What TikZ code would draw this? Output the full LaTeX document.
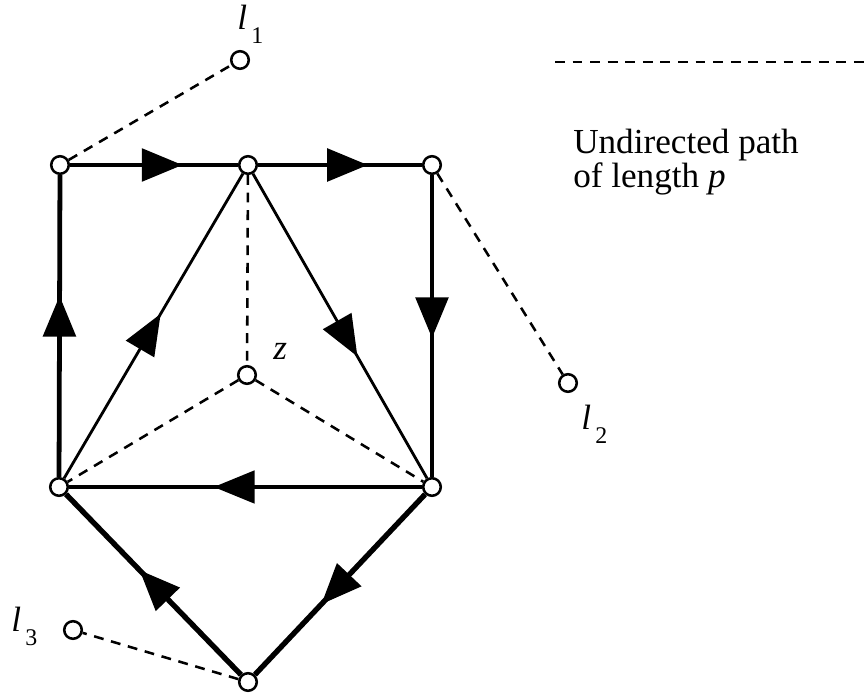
\documentclass[tikz,border=0pt]{standalone}
\usepackage{fontspec}
\setmainfont{Liberation Serif}
\usetikzlibrary{arrows.meta,decorations.markings}

\tikzset{
  vtx/.style={circle, draw, fill=white, line width=1.8pt, minimum size=12.5pt, inner sep=0pt},
  heavy/.style={line width=3.4pt},
  light/.style={line width=2pt},
  dashline/.style={line width=1.8pt, dash pattern=on 7pt off 5.5pt},
  midarr/.style={postaction={decorate}, decoration={markings,
      mark=at position #1 with {\arrow{Triangle[length=29pt,width=23pt]}}}},
  lbl/.style={font=\fontsize{25}{24}\selectfont, inner sep=0pt}
}
\newcommand{\lsub}[1]{\textit{l}\kern3pt\raisebox{-0.37em}{\fontsize{17}{17}\selectfont #1}}

\begin{document}
\begin{tikzpicture}[x=0.025cm, y=-0.025cm]
            \useasboundingbox (0,0) rectangle (864,694);

            % vertices
            \node[vtx] (a) at (60,165) {};
            \node[vtx] (b) at (248,165) {};
            \node[vtx] (c) at (432,165) {};
            \node[vtx] (e) at (59,487) {};
            \node[vtx] (d) at (432,487) {};
            \node[vtx] (f) at (248,682) {};
            \node[vtx] (z) at (247,375) {};
            \node[vtx] (l1) at (240,60) {};
            \node[vtx] (l2) at (568,383) {};
            \node[vtx] (l3) at (73,630) {};

            % directed cycle edges
            \draw[heavy, midarr=0.67] (a) -- (b);
            \draw[heavy, midarr=0.67] (b) -- (c);
            \draw[heavy, midarr=0.54] (c) -- (d);
            \draw[heavy, midarr=0.6] (e) -- (a);
            \draw[light, midarr=0.54] (e) -- (b);
            \draw[light, midarr=0.6] (b) -- (d);
            \draw[line width=2.6pt, midarr=0.59] (d) -- (e);
            \draw[line width=3.8pt, midarr=0.61] (d) -- (f);
            \draw[line width=3.8pt, midarr=0.58] (f) -- (e);

            % dashed connections
            \draw[dashline] (b) -- (z);
            \draw[dashline] (z) -- (e);
            \draw[dashline] (z) -- (d);
            \draw[dashline] (a) -- (l1);
            \draw[dashline] (c) -- (l2);
            \draw[dashline] (f) -- (l3);
            \coordinate (p0) at (555,62);
            \coordinate (p1) at (864,62);
            \draw[dashline] (p0) -- (p1);

            % labels
            \node[lbl, anchor=base west] (l1t) at (237,30) {\lsub{1}};
            \node[lbl, anchor=base west] (l2t) at (581,430) {\lsub{2}};
            \node[lbl, anchor=base west] (l3t) at (11,632) {\lsub{3}};
            \node[lbl, anchor=base west] (zt) at (273,360) {\textit{z}};
            \node[lbl, anchor=north west, align=left] (cap) at (573,129) {Undirected path\\of length \textit{p}};
        \end{tikzpicture}
\end{document}
